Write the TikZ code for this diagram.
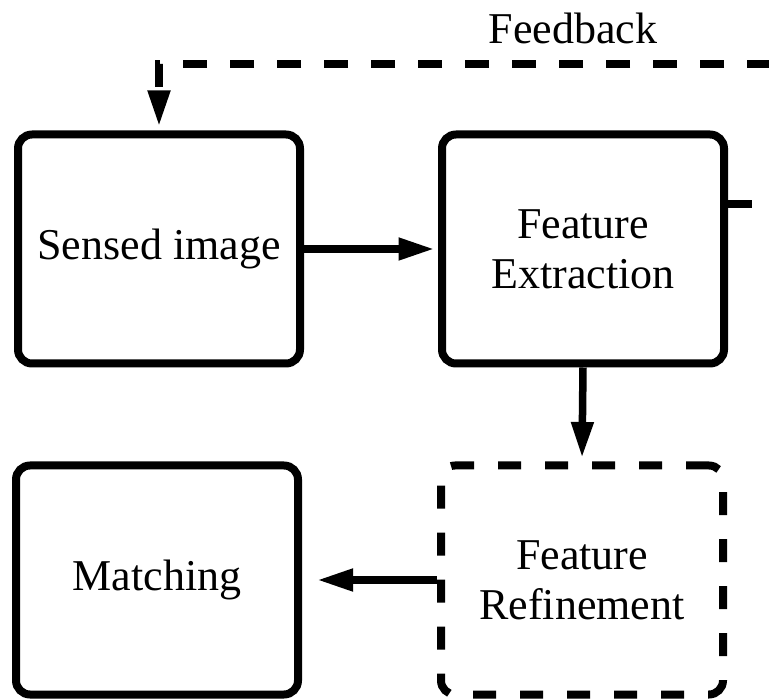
\documentclass[tikz,border=0pt]{standalone}
\usepackage{fontspec}
\setmainfont{Liberation Serif}
\usetikzlibrary{arrows.meta}
\begin{document}
\begin{tikzpicture}[x=1pt,y=-1pt,
  box/.style={draw, line width=8pt, rounded corners=14pt, minimum width=282pt, minimum height=229pt, inner sep=0pt, align=center, font=\fontsize{44}{50}\selectfont},
  dbox/.style={box, dash pattern=on 23pt off 24pt},
  arr/.style={line width=7.5pt, -{Triangle[length=36pt,width=21pt]}},
  fbline/.style={arr, dash pattern=on 24pt off 23pt, dash phase=43pt},
  lbl/.style={font=\fontsize{44}{50}\selectfont, inner sep=0pt}]
\useasboundingbox (0,0) rectangle (769,700);
\node[box] (sensed) at (159,249) {Sensed image};
\node[box] (fe) at (583,249) {Feature\\Extraction};
\node[box] (match) at (157,580) {Matching};
\node[dbox] (fr) at (582,580) {Feature\\Refinement};
\node[lbl] (fbl) at (573,28) {Feedback};
\coordinate (fbR) at (775,64);
\coordinate (fbC) at (159,64);
\coordinate (stubE) at (752,204);
\draw[arr, shorten >=3.5pt] (sensed.east) -- (fe.west);
\draw[arr, shorten >=3.5pt] (fe.south) -- (fr.north);
\draw[arr, shorten >=15pt] (fr.west) -- (match.east);
\draw[line width=7.5pt] (fe.east |- stubE) -- (stubE);
\draw[fbline, shorten >=4pt] (fbR) -- (fbC) -- (sensed.north);
\end{tikzpicture}
\end{document}
